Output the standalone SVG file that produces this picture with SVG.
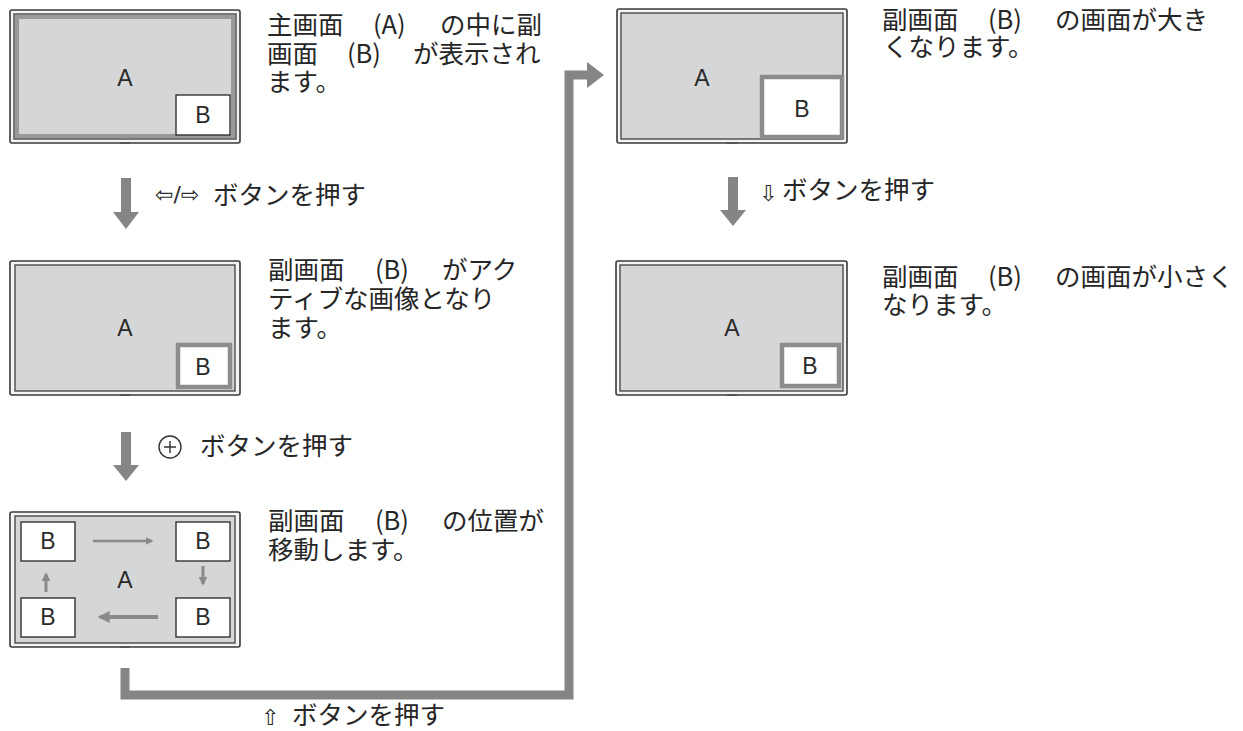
<svg xmlns="http://www.w3.org/2000/svg" width="1243" height="731" viewBox="0 0 1243 731">
<style>
.frame{fill:#f4f4f4;stroke:#3a3a3a;stroke-width:1.6}
.scr{fill:#d4d6d7;stroke:#4a4a4a;stroke-width:1.4}
.band{fill:none;stroke:#9a9a9a;stroke-width:4}
.bx{fill:#fff;stroke:#333;stroke-width:1.4}
.bxa{fill:#fff;stroke:#8c8c8c;stroke-width:4.5}
.lbl{font-family:"Liberation Sans",Arial,sans-serif;font-size:23px;fill:#2a2a2a;text-anchor:middle}
.jp{font-family:"Noto Sans CJK JP","Noto Sans",sans-serif;font-size:25.5px;fill:#262626;font-weight:400}
.sym{font-family:"DejaVu Sans",sans-serif;fill:#2a2a2a}
.garrow{fill:#858585}
.mv{stroke:#8a8a8a;fill:none}
.stand{fill:#555}
</style>
<defs>
<marker id="mh" viewBox="0 0 10 10" refX="8" refY="5" markerWidth="3" markerHeight="3" orient="auto" markerUnits="strokeWidth">
<path d="M0,0 L10,5 L0,10 z" fill="#8a8a8a"/>
</marker>
</defs>

<g id="screen1">
<rect class="frame" x="10" y="10" width="230" height="133" rx="2"/>
<rect class="scr" x="14" y="14" width="222" height="125"/>
<rect class="band" x="17" y="17" width="216" height="119"/>
<rect class="bx" x="176" y="95" width="54" height="40"/>
<text class="lbl" x="125" y="86">A</text>
<text class="lbl" x="203" y="123">B</text>
<rect class="stand" x="120" y="142" width="10" height="2"/>
</g>
<g id="text1" class="jp">
<text x="267" y="34">主画面</text><text x="373" y="34">(A)</text><text x="440" y="34">の中に副</text>
<text x="267" y="63">画面</text><text x="347" y="63">(B)</text><text x="413" y="63">が表示され</text>
<text x="267" y="91">ます。</text>
</g>

<g id="screen2">
<rect class="frame" x="10" y="261" width="230" height="134" rx="2"/>
<rect class="scr" x="15" y="265" width="220" height="126"/>
<rect class="bxa" x="178" y="345" width="52" height="42"/>
<text class="lbl" x="125" y="336">A</text>
<text class="lbl" x="203" y="375">B</text>
<rect class="stand" x="120" y="394" width="10" height="2"/>
</g>
<g id="text2" class="jp">
<text x="268" y="279">副画面</text><text x="375" y="279">(B)</text><text x="442" y="279">がアク</text>
<text x="268" y="308">ティブな画像となり</text>
<text x="268" y="337">ます。</text>
</g>

<g id="screen3">
<rect class="frame" x="10" y="512" width="230" height="135" rx="2"/>
<rect class="scr" x="15" y="516" width="220" height="127"/>
<rect class="bx" x="21" y="522" width="54" height="39"/>
<rect class="bx" x="176" y="522" width="54" height="39"/>
<rect class="bx" x="21" y="598" width="54" height="39"/>
<rect class="bx" x="176" y="598" width="54" height="39"/>
<text class="lbl" x="125" y="588">A</text>
<text class="lbl" x="48" y="549">B</text>
<text class="lbl" x="203" y="549">B</text>
<text class="lbl" x="48" y="625">B</text>
<text class="lbl" x="203" y="625">B</text>
<line class="mv" x1="93" y1="541" x2="152" y2="541" stroke-width="2.5" marker-end="url(#mh)"/>
<line class="mv" x1="203" y1="566" x2="203" y2="584" stroke-width="3" marker-end="url(#mh)"/>
<line class="mv" x1="158" y1="617" x2="100" y2="617" stroke-width="4" marker-end="url(#mh)"/>
<line class="mv" x1="46" y1="592" x2="46" y2="574" stroke-width="3" marker-end="url(#mh)"/>
<rect class="stand" x="120" y="646" width="10" height="2"/>
</g>
<g id="text3" class="jp">
<text x="268" y="530">副画面</text><text x="375" y="530">(B)</text><text x="442" y="530">の位置が</text>
<text x="268" y="559">移動します。</text>
</g>

<g id="screen4">
<rect class="frame" x="617" y="9" width="230" height="134" rx="2"/>
<rect class="scr" x="621" y="13" width="222" height="126"/>
<rect class="bxa" x="762" y="77" width="80" height="60"/>
<text class="lbl" x="702" y="86">A</text>
<text class="lbl" x="802" y="117">B</text>
<rect class="stand" x="727" y="142" width="10" height="2"/>
</g>
<g id="text4" class="jp">
<text x="882" y="29">副画面</text><text x="988" y="29">(B)</text><text x="1055" y="29">の画面が大き</text>
<text x="883" y="56">くなります。</text>
</g>

<g id="screen5">
<rect class="frame" x="616" y="261" width="231" height="134" rx="2"/>
<rect class="scr" x="620" y="265" width="223" height="126"/>
<rect class="bxa" x="782" y="345" width="57" height="41"/>
<text class="lbl" x="732" y="336">A</text>
<text class="lbl" x="810" y="374">B</text>
<rect class="stand" x="727" y="394" width="10" height="2"/>
</g>
<g id="text5" class="jp">
<text x="882" y="286">副画面</text><text x="988" y="286">(B)</text><text x="1055" y="286">の画面が小さく</text>
<text x="882" y="314">なります。</text>
</g>

<g id="connectors">
<path class="garrow" d="M121,178 H131 V212 H139 L126,229 L113,212 H121 Z"/>
<path class="garrow" d="M121,432 H131 V465 H139 L126,481 L113,465 H121 Z"/>
<path class="garrow" d="M728,177 H738 V210 H746 L733,226 L720,210 H728 Z"/>
<path d="M125,668 V695 H569 V75 H590" fill="none" stroke="#858585" stroke-width="9"/>
<path class="garrow" d="M587,62 L604,75 L587,88 Z"/>
</g>

<g id="labels">
<text class="sym" x="155" y="202" font-size="22">⇦/⇨</text>
<text class="jp" x="213" y="204">ボタンを押す</text>
<circle cx="170" cy="447" r="11" fill="none" stroke="#333" stroke-width="1.4"/>
<path d="M170,441 V453 M164,447 H176" stroke="#333" stroke-width="1.4"/>
<text class="jp" x="200" y="455">ボタンを押す</text>
<text class="sym" x="759" y="201" font-size="22">⇩</text>
<text class="jp" x="782" y="199">ボタンを押す</text>
<text class="sym" x="261" y="725" font-size="22">⇧</text>
<text class="jp" x="292" y="724">ボタンを押す</text>
</g>
</svg>
